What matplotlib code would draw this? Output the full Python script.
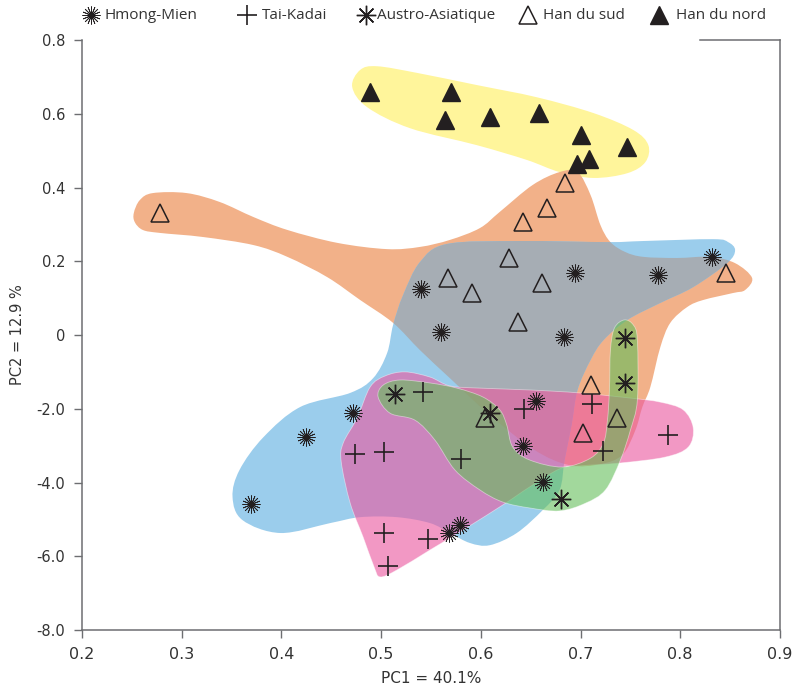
import numpy as np
import matplotlib
matplotlib.use("Agg")
import matplotlib.pyplot as plt
from matplotlib.path import Path
from matplotlib.patches import PathPatch
from matplotlib.lines import Line2D

# PCA scores per linguistic group (PC1, PC2)
hmong_x = [0.540, 0.694, 0.778, 0.832, 0.560, 0.683, 0.472, 0.425, 0.370, 0.568, 0.579, 0.655, 0.642, 0.662]
hmong_y = [0.125, 0.168, 0.163, 0.212, 0.008, -0.005, -0.212, -0.277, -0.458, -0.537, -0.515, -0.179, -0.301, -0.399]

tai_x = [0.542, 0.474, 0.503, 0.580, 0.643, 0.503, 0.547, 0.507, 0.711, 0.723, 0.788]
tai_y = [-0.155, -0.323, -0.317, -0.336, -0.201, -0.537, -0.553, -0.626, -0.187, -0.315, -0.271]

austro_x = [0.514, 0.609, 0.745, 0.745, 0.680]
austro_y = [-0.160, -0.212, -0.008, -0.130, -0.445]

sud_x = [0.278, 0.684, 0.642, 0.666, 0.628, 0.567, 0.591, 0.661, 0.637, 0.846, 0.710, 0.737, 0.702, 0.604]
sud_y = [0.331, 0.412, 0.306, 0.344, 0.209, 0.155, 0.114, 0.141, 0.035, 0.168, -0.136, -0.225, -0.266, -0.225]

nord_x = [0.489, 0.570, 0.564, 0.609, 0.658, 0.700, 0.708, 0.696, 0.747]
nord_y = [0.659, 0.659, 0.583, 0.591, 0.602, 0.542, 0.477, 0.464, 0.510]

# hand-drawn group envelopes (outline vertices, smoothed below)
yellow_x = [0.471, 0.479, 0.496, 0.536, 0.596, 0.656, 0.713, 0.753, 0.768, 0.765, 0.747, 0.713, 0.679, 0.646, 0.596, 0.529, 0.486]
yellow_y = [0.673, 0.719, 0.729, 0.711, 0.678, 0.645, 0.602, 0.556, 0.515, 0.469, 0.439, 0.426, 0.442, 0.475, 0.515, 0.561, 0.618]

orange_x = [0.252, 0.258, 0.271, 0.305, 0.338, 0.372, 0.406, 0.456, 0.506, 0.539, 0.569, 0.599, 0.619, 0.652,
            0.679, 0.697, 0.710, 0.720, 0.730, 0.745, 0.763, 0.797, 0.830, 0.855, 0.872, 0.865, 0.853, 0.823,
            0.807, 0.790, 0.780, 0.770, 0.762, 0.755, 0.742, 0.720, 0.689, 0.654, 0.609, 0.569, 0.539, 0.512,
            0.479, 0.446, 0.406, 0.372, 0.321, 0.278, 0.261, 0.253]
orange_y = [0.331, 0.366, 0.385, 0.385, 0.361, 0.320, 0.285, 0.250, 0.233, 0.239, 0.258, 0.290, 0.334, 0.407,
            0.442, 0.442, 0.380, 0.298, 0.252, 0.225, 0.212, 0.209, 0.212, 0.195, 0.155, 0.122, 0.114, 0.095,
            0.076, 0.033, -0.033, -0.141, -0.195, -0.258, -0.325, -0.350, -0.353, -0.312, -0.217, -0.117, -0.041, 0.033,
            0.095, 0.157, 0.212, 0.244, 0.266, 0.277, 0.285, 0.306]

blue_x = [0.566, 0.639, 0.727, 0.763, 0.833, 0.848, 0.855, 0.847, 0.813, 0.780, 0.747, 0.723, 0.710, 0.697,
          0.691, 0.684, 0.679, 0.662, 0.636, 0.609, 0.589, 0.569, 0.549, 0.516, 0.479, 0.449, 0.399, 0.361,
          0.351, 0.358, 0.382, 0.419, 0.469, 0.492, 0.506, 0.512, 0.522, 0.539]
blue_y = [0.247, 0.255, 0.252, 0.255, 0.260, 0.252, 0.230, 0.195, 0.130, 0.087, 0.041, -0.014, -0.068, -0.149,
          -0.244, -0.339, -0.420, -0.475, -0.537, -0.570, -0.564, -0.537, -0.510, -0.494, -0.494, -0.510, -0.537, -0.502,
          -0.439, -0.366, -0.277, -0.195, -0.157, -0.117, -0.049, 0.027, 0.108, 0.198]

pink_x = [0.489, 0.504, 0.524, 0.549, 0.569, 0.599, 0.649, 0.699, 0.750, 0.780, 0.803, 0.813, 0.808, 0.785,
          0.740, 0.699, 0.679, 0.649, 0.622, 0.582, 0.549, 0.516, 0.499, 0.493, 0.482, 0.469, 0.460, 0.462, 0.476]
pink_y = [-0.141, -0.111, -0.100, -0.114, -0.138, -0.144, -0.149, -0.157, -0.171, -0.182, -0.203, -0.252, -0.304, -0.331,
          -0.347, -0.355, -0.363, -0.412, -0.461, -0.529, -0.583, -0.637, -0.656, -0.629, -0.548, -0.456, -0.344, -0.293, -0.225]

green_x = [0.497, 0.502, 0.519, 0.549, 0.576, 0.602, 0.619, 0.626, 0.632, 0.649, 0.682, 0.710, 0.723, 0.727,
           0.729, 0.730, 0.734, 0.744, 0.753, 0.757, 0.757, 0.750, 0.740, 0.725, 0.705, 0.679, 0.649, 0.622,
           0.599, 0.574, 0.554, 0.534, 0.509]
green_y = [-0.168, -0.136, -0.122, -0.130, -0.144, -0.168, -0.203, -0.244, -0.304, -0.339, -0.358, -0.334, -0.293, -0.231,
           -0.149, -0.041, 0.019, 0.041, 0.027, -0.014, -0.176, -0.258, -0.339, -0.420, -0.456, -0.477, -0.469, -0.453,
           -0.420, -0.366, -0.285, -0.231, -0.212]

ytick_vals = [0.8, 0.6, 0.4, 0.2, 0.0, -0.2, -0.4, -0.6, -0.8]
ytick_labels = ["0.8", "0.6", "0.4", "0.2", "0", "-2.0", "-4.0", "-6.0", "-8.0"]
xtick_vals = [0.2, 0.3, 0.4, 0.5, 0.6, 0.7, 0.8, 0.9]

names = ["Hmong-Mien", "Tai-Kadai", "Austro-Asiatique", "Han du sud", "Han du nord"]


def smooth_path(xs, ys):
    # closed Catmull-Rom curve through the outline points, as cubic Beziers
    pts = np.column_stack([xs, ys])
    n = len(pts)
    verts = [pts[0]]
    codes = [Path.MOVETO]
    for i in range(n):
        p0, p1 = pts[i - 1], pts[i]
        p2, p3 = pts[(i + 1) % n], pts[(i + 2) % n]
        verts += [p1 + (p2 - p0) / 6, p2 - (p3 - p1) / 6, p2]
        codes += [Path.CURVE4] * 3
    verts.append(pts[0])
    codes.append(Path.CLOSEPOLY)
    return Path(verts, codes)


fig = plt.figure(figsize=(7.92, 6.91), dpi=100)
ax = fig.add_axes([0.1035, 0.0883, 0.8813, 0.8537])

edge = (1, 1, 1, 0.45)
yellow = PathPatch(smooth_path(yellow_x, yellow_y), fc="#FFF59B", ec="none", zorder=1)
orange = PathPatch(smooth_path(orange_x, orange_y), fc="#F2B189", ec="none", zorder=1)
blue_path = smooth_path(blue_x, blue_y)
blue = PathPatch(blue_path, fc="#9BCDEC", ec="none", zorder=2)
overlap = PathPatch(blue_path, fc="#A6ADB4", ec="none", zorder=2.5)
pink = PathPatch(smooth_path(pink_x, pink_y), fc=(234 / 255, 89 / 255, 160 / 255, 0.62), ec=edge, lw=0.6, zorder=3)
green = PathPatch(smooth_path(green_x, green_y), fc=(100 / 255, 190 / 255, 90 / 255, 0.6), ec=edge, lw=0.6, zorder=4)
for p in (yellow, orange, blue, overlap, pink, green):
    ax.add_patch(p)
overlap.set_clip_path(orange)

ink = "#231F20"
styles = [
    dict(marker=(16, 2, 0), ms=13, mew=0.55, color=ink),
    dict(marker="+", ms=15, mew=1.2, color=ink),
    dict(marker=(8, 2, 0), ms=14, mew=1.0, color=ink),
    dict(marker="^", ms=13, mfc="none", mec=ink, mew=1.1),
    dict(marker="^", ms=13, mfc=ink, mec=ink),
]
groups = [(hmong_x, hmong_y), (tai_x, tai_y), (austro_x, austro_y), (sud_x, sud_y), (nord_x, nord_y)]
for (gx, gy), st in zip(groups, styles):
    ax.plot(gx, gy, ls="none", zorder=5, **st)
# dark cores of the starbursts and asterisks
ax.plot(hmong_x, hmong_y, ls="none", marker="o", ms=3.2, color=ink, zorder=5)
ax.plot(austro_x, austro_y, ls="none", marker="o", ms=2.8, color=ink, zorder=5)

ax.set_xlim(0.2, 0.9)
ax.set_ylim(-0.8, 0.8)
ax.set_xticks(xtick_vals)
ax.set_xticklabels([f"{v:.1f}" for v in xtick_vals], fontsize=11.5)
ax.set_yticks(ytick_vals)
ax.set_yticklabels(ytick_labels, fontsize=10.5)

spine_c = "#6D6E71"
for s in ax.spines.values():
    s.set_color(spine_c)
    s.set_linewidth(1.1)
ax.spines["top"].set_bounds(0.82, 0.9)
ax.tick_params(direction="out", length=6, width=1, color=spine_c, labelcolor="#333333", pad=6)

ax.set_xlabel("PC1 = 40.1%", fontsize=11, color="#333333", labelpad=7)
ax.set_ylabel("PC2 = 12.9 %", fontsize=10.5, color="#333333", labelpad=8)

# key row across the top
key_marker_x = [0.115, 0.312, 0.462, 0.667, 0.832]
key_text_x = [0.132, 0.331, 0.476, 0.686, 0.854]
key_y = 0.978
for mx, tx, name, st in zip(key_marker_x, key_text_x, names, styles):
    fig.add_artist(Line2D([mx], [key_y], transform=fig.transFigure, ls="none", **st))
    fig.text(tx, key_y, name, ha="left", va="center", family="Open Sans", fontsize=11, color="#333333")
fig.add_artist(Line2D([key_marker_x[0]], [key_y], transform=fig.transFigure, ls="none",
                      marker="o", ms=3.2, color=ink))

fig.savefig("out.png", dpi=100)
